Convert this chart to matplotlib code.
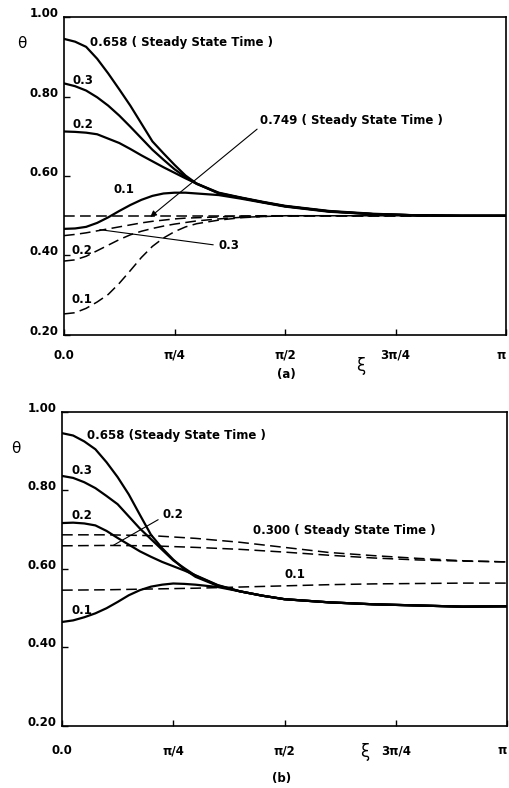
import numpy as np
import matplotlib
matplotlib.use('Agg')
import matplotlib.pyplot as plt

plt.rcParams['font.family'] = 'DejaVu Sans'
plt.rcParams['font.weight'] = 'bold'
plt.rcParams['font.size'] = 8.5

# xi given as fraction of pi
frac = np.array([0, 0.025, 0.05, 0.075, 0.1, 0.125, 0.15, 0.175, 0.2, 0.225, 0.25, 0.275,
                 0.3, 0.35, 0.4, 0.45, 0.5, 0.6, 0.7, 0.8, 0.9, 1.0])
frac_d = np.array([0, 0.1, 0.2, 0.3, 0.4, 0.5, 0.6, 0.7, 0.8, 0.9, 1.0])

# ---- panel (a) ----
a_s658 = [0.945, 0.938, 0.925, 0.895, 0.858, 0.818, 0.777, 0.732, 0.687, 0.657, 0.628, 0.601,
          0.581, 0.558, 0.546, 0.535, 0.525, 0.512, 0.505, 0.501, 0.500, 0.500]
a_s03 = [0.833, 0.826, 0.815, 0.798, 0.777, 0.752, 0.724, 0.695, 0.666, 0.641, 0.617, 0.597,
         0.580, 0.557, 0.545, 0.534, 0.524, 0.511, 0.504, 0.501, 0.500, 0.500]
a_s02 = [0.712, 0.711, 0.709, 0.705, 0.694, 0.683, 0.668, 0.652, 0.637, 0.622, 0.608, 0.594,
         0.581, 0.556, 0.545, 0.534, 0.524, 0.511, 0.504, 0.501, 0.500, 0.500]
a_s01 = [0.467, 0.468, 0.472, 0.482, 0.496, 0.512, 0.527, 0.540, 0.550, 0.556, 0.558, 0.558,
         0.556, 0.552, 0.543, 0.533, 0.523, 0.510, 0.504, 0.501, 0.500, 0.500]
a_d749 = [0.500, 0.500, 0.500, 0.500, 0.500, 0.500, 0.500, 0.500, 0.500, 0.500, 0.500, 0.500,
          0.500, 0.500, 0.500, 0.500, 0.500, 0.500, 0.500, 0.500, 0.500, 0.500]
a_d03 = [0.450, 0.453, 0.457, 0.462, 0.467, 0.472, 0.477, 0.482, 0.486, 0.489, 0.492, 0.494,
         0.495, 0.497, 0.499, 0.500, 0.500, 0.500, 0.500, 0.500, 0.500, 0.500]
a_d02 = [0.386, 0.389, 0.398, 0.412, 0.426, 0.440, 0.452, 0.461, 0.468, 0.474, 0.479, 0.483,
         0.487, 0.492, 0.496, 0.498, 0.500, 0.500, 0.500, 0.500, 0.500, 0.500]
a_d01 = [0.253, 0.256, 0.267, 0.283, 0.302, 0.330, 0.362, 0.395, 0.423, 0.444, 0.460, 0.472,
         0.480, 0.489, 0.495, 0.498, 0.500, 0.500, 0.500, 0.500, 0.500, 0.500]

# ---- panel (b) ----
b_s658 = [0.946, 0.940, 0.925, 0.905, 0.872, 0.834, 0.790, 0.738, 0.687, 0.653, 0.624, 0.599,
          0.580, 0.557, 0.543, 0.532, 0.523, 0.515, 0.510, 0.507, 0.504, 0.505]
b_s03 = [0.837, 0.832, 0.821, 0.806, 0.786, 0.765, 0.734, 0.703, 0.676, 0.649, 0.622, 0.602,
         0.583, 0.558, 0.543, 0.532, 0.523, 0.515, 0.510, 0.507, 0.504, 0.505]
b_s02 = [0.717, 0.718, 0.716, 0.711, 0.697, 0.679, 0.662, 0.645, 0.631, 0.618, 0.607, 0.596,
         0.584, 0.559, 0.543, 0.532, 0.523, 0.515, 0.510, 0.507, 0.504, 0.505]
b_s01 = [0.465, 0.469, 0.477, 0.487, 0.500, 0.516, 0.533, 0.546, 0.555, 0.560, 0.563, 0.562,
         0.560, 0.554, 0.543, 0.532, 0.523, 0.515, 0.510, 0.507, 0.504, 0.505]
b_d300 = [0.687, 0.687, 0.685, 0.678, 0.668, 0.655, 0.642, 0.634, 0.627, 0.621, 0.618]
b_d02 = [0.659, 0.660, 0.659, 0.655, 0.650, 0.643, 0.635, 0.628, 0.623, 0.620, 0.618]
b_d01 = [0.546, 0.547, 0.549, 0.551, 0.554, 0.557, 0.560, 0.562, 0.563, 0.564, 0.564]

yticks = [0.20, 0.40, 0.60, 0.80, 1.00]
ytick_labels = ['0.20', '0.40', '0.60', '0.80', '1.00']
xtick_frac = [0, 0.25, 0.5, 0.75, 1.0]
xtick_labels = ['0.0', 'π/4', 'π/2', '3π/4', 'π']

xi = np.pi * frac
xi_d = np.pi * frac_d

fig = plt.figure(figsize=(5.10, 7.88), dpi=100)
ax1 = fig.add_axes([0.1255, 0.5749, 0.867, 0.4035])
ax2 = fig.add_axes([0.1216, 0.0787, 0.8725, 0.3985])

solid = dict(color='black', lw=1.6, solid_capstyle='round', solid_joinstyle='round')
dash = dict(color='black', lw=1.1, dashes=(7, 3.5))


def style(ax, xpad):
    ax.set_xlim(0, np.pi)
    ax.set_ylim(0.2, 1.0)
    ax.set_yticks(yticks)
    ax.set_yticklabels(ytick_labels)
    ax.set_xticks([np.pi * f for f in xtick_frac])
    ax.set_xticklabels(xtick_labels)
    ax.tick_params(direction='in', length=4, width=1.0, labelsize=8.5)
    ax.tick_params(axis='y', pad=4)
    ax.tick_params(axis='x', pad=xpad)
    for lab in ax.get_yticklabels():
        lab.set_verticalalignment('baseline')
    ax.get_xticklabels()[-1].set_horizontalalignment('right')
    for sp in ax.spines.values():
        sp.set_linewidth(1.2)


# panel (a)
for y in [a_s658, a_s03, a_s02, a_s01]:
    ax1.plot(xi, y, **solid)
for y in [a_d749, a_d03, a_d02, a_d01]:
    ax1.plot(xi, y, **dash)
style(ax1, 10)

ax1.text(np.pi * 0.059, 0.937, '0.658 ( Steady State Time )', va='center')
ax1.text(np.pi * 0.02, 0.841, '0.3', va='center')
ax1.text(np.pi * 0.02, 0.73, '0.2', va='center')
ax1.text(np.pi * 0.111, 0.566, '0.1', va='center')
ax1.text(np.pi * 0.018, 0.412, '0.2', va='center')
ax1.text(np.pi * 0.018, 0.29, '0.1', va='center')
ax1.annotate('0.749 ( Steady State Time )', xy=(np.pi * 0.195, 0.497),
             xytext=(np.pi * 0.443, 0.74), va='center',
             arrowprops=dict(arrowstyle='-|>', color='black', lw=0.8,
                             shrinkA=0, shrinkB=0, mutation_scale=9,
                             relpos=(0, 0)))
ax1.annotate('0.3', xy=(np.pi * 0.081, 0.465), xytext=(np.pi * 0.35, 0.425),
             va='center',
             arrowprops=dict(arrowstyle='-', color='black', lw=0.8,
                             shrinkA=2, shrinkB=0, relpos=(0, 0.5)))
ax1.text(-0.095, 0.918, 'θ', transform=ax1.transAxes, ha='center', va='center',
         fontsize=11, fontweight='normal')
ax1.text(0.67, -0.097, 'ξ', transform=ax1.transAxes, ha='center', va='center',
         fontsize=12, fontweight='normal')
ax1.text(0.502, -0.123, '(a)', transform=ax1.transAxes, ha='center', va='center')

# panel (b)
for y in [b_s658, b_s03, b_s02, b_s01]:
    ax2.plot(xi, y, **solid)
for y in [b_d300, b_d02, b_d01]:
    ax2.plot(xi_d, y, **dash)
style(ax2, 13)

ax2.text(np.pi * 0.056, 0.939, '0.658 (Steady State Time )', va='center')
ax2.text(np.pi * 0.022, 0.85, '0.3', va='center')
ax2.text(np.pi * 0.022, 0.735, '0.2', va='center')
ax2.text(np.pi * 0.429, 0.699, '0.300 ( Steady State Time )', va='center')
ax2.text(np.pi * 0.501, 0.585, '0.1', va='center')
ax2.text(np.pi * 0.022, 0.493, '0.1', va='center')
ax2.annotate('0.2', xy=(np.pi * 0.115, 0.66), xytext=(np.pi * 0.225, 0.738),
             va='center',
             arrowprops=dict(arrowstyle='-', color='black', lw=0.8,
                             shrinkA=1, shrinkB=0, relpos=(0, 0.3)))
ax2.text(-0.103, 0.885, 'θ', transform=ax2.transAxes, ha='center', va='center',
         fontsize=11, fontweight='normal')
ax2.text(0.681, -0.083, 'ξ', transform=ax2.transAxes, ha='center', va='center',
         fontsize=12, fontweight='normal')
ax2.text(0.494, -0.166, '(b)', transform=ax2.transAxes, ha='center', va='center')

fig.savefig('out.png', dpi=100)
